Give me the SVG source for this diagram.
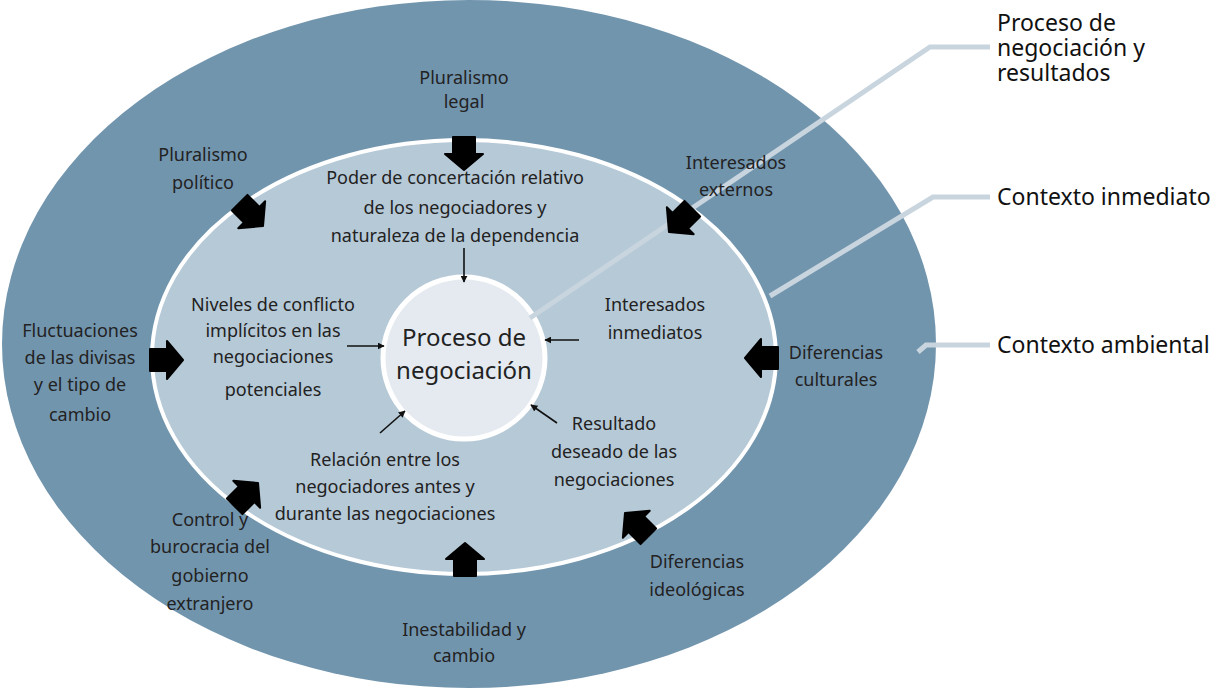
<svg xmlns="http://www.w3.org/2000/svg" width="1228" height="688" viewBox="0 0 1228 688">
<defs>
<style>
text{font-family:"Noto Sans","Liberation Sans",sans-serif;font-size:18px;fill:#222;text-anchor:middle}
.lbl{font-size:23px;text-anchor:start;fill:#111}
.lead{fill:none;stroke:#c9d5de;stroke-width:5}
.thin{stroke:#111;stroke-width:1.6;fill:none;marker-end:url(#ah)}
.big{fill:#000;stroke:#000;stroke-width:2;stroke-linejoin:round}
</style>
<marker id="ah" viewBox="0 0 10 10" refX="9" refY="5" markerWidth="7" markerHeight="7" markerUnits="userSpaceOnUse" orient="auto"><path d="M0,0 L10,5 L0,10 Z" fill="#111"/></marker>
<path id="big" d="M-16,-11 H1 V-19 L17,0 L1,19 V11 H-16 Z"/>
</defs>
<rect width="1228" height="688" fill="#fff"/>
<g id="contexto-ambiental">
<ellipse cx="469" cy="344" rx="467" ry="344" fill="#7295ae"/>
</g>
<g id="contexto-inmediato">
<ellipse cx="464" cy="357" rx="312" ry="217" fill="#b6c9d7" stroke="#fff" stroke-width="4"/>
</g>
<g id="proceso">
<circle cx="464" cy="358" r="81" fill="#e4eaf0" stroke="#fff" stroke-width="5"/>
<text x="464" y="346" style="font-size:24px">Proceso de</text>
<text x="464" y="379" style="font-size:24px">negociación</text>
</g>
<g id="connectors">
<polyline class="lead" points="530,318 930,47 990,47"/>
<polyline class="lead" points="770,296 933,197 990,197"/>
<polyline class="lead" points="918,352 926,345 990,345"/>
<line class="thin" x1="464" y1="248" x2="464" y2="282"/>
<line class="thin" x1="347" y1="346" x2="384" y2="346"/>
<line class="thin" x1="579" y1="340" x2="545" y2="340"/>
<line class="thin" x1="380" y1="433" x2="405" y2="411"/>
<line class="thin" x1="557" y1="423" x2="531" y2="405"/>
<use href="#big" class="big" transform="translate(464,153) rotate(90)"/>
<use href="#big" class="big" transform="translate(251,214) rotate(45)"/>
<use href="#big" class="big" transform="translate(681,220) rotate(135)"/>
<use href="#big" class="big" transform="translate(166,360)"/>
<use href="#big" class="big" transform="translate(762,358) rotate(180)"/>
<use href="#big" class="big" transform="translate(246,495) rotate(-45)"/>
<use href="#big" class="big" transform="translate(637,525) rotate(-135)"/>
<use href="#big" class="big" transform="translate(465,560) rotate(-90)"/>
</g>
<g id="pluralismo-legal"><text x="464" y="84">Pluralismo</text><text x="464" y="108">legal</text></g>
<g id="pluralismo-politico"><text x="203" y="161">Pluralismo</text><text x="203" y="189">político</text></g>
<g id="interesados-externos"><text x="736" y="169">Interesados</text><text x="736" y="196">externos</text></g>
<g id="poder"><text x="455" y="184">Poder de concertación relativo</text><text x="455" y="214">de los negociadores y</text><text x="455" y="242">naturaleza de la dependencia</text></g>
<g id="niveles"><text x="273" y="311">Niveles de conflicto</text><text x="273" y="337">implícitos en las</text><text x="273" y="363">negociaciones</text><text x="273" y="396">potenciales</text></g>
<g id="interesados-inmediatos"><text x="655" y="311">Interesados</text><text x="655" y="339">inmediatos</text></g>
<g id="fluctuaciones"><text x="80" y="337">Fluctuaciones</text><text x="80" y="364">de las divisas</text><text x="80" y="391">y el tipo de</text><text x="80" y="421">cambio</text></g>
<g id="diferencias-culturales"><text x="836" y="359">Diferencias</text><text x="836" y="386">culturales</text></g>
<g id="resultado"><text x="614" y="430">Resultado</text><text x="614" y="458">deseado de las</text><text x="614" y="486">negociaciones</text></g>
<g id="relacion"><text x="385" y="466">Relación entre los</text><text x="385" y="493">negociadores antes y</text><text x="385" y="520">durante las negociaciones</text></g>
<g id="control"><text x="210" y="526">Control y</text><text x="210" y="553">burocracia del</text><text x="210" y="582">gobierno</text><text x="210" y="610">extranjero</text></g>
<g id="diferencias-ideologicas"><text x="697" y="568">Diferencias</text><text x="697" y="596">ideológicas</text></g>
<g id="inestabilidad"><text x="464" y="636">Inestabilidad y</text><text x="464" y="662">cambio</text></g>
<g id="leyenda">
<text class="lbl" x="997" y="31">Proceso de</text>
<text class="lbl" x="997" y="56">negociación y</text>
<text class="lbl" x="997" y="81">resultados</text>
<text class="lbl" x="997" y="205">Contexto inmediato</text>
<text class="lbl" x="997" y="353">Contexto ambiental</text>
</g>
</svg>
